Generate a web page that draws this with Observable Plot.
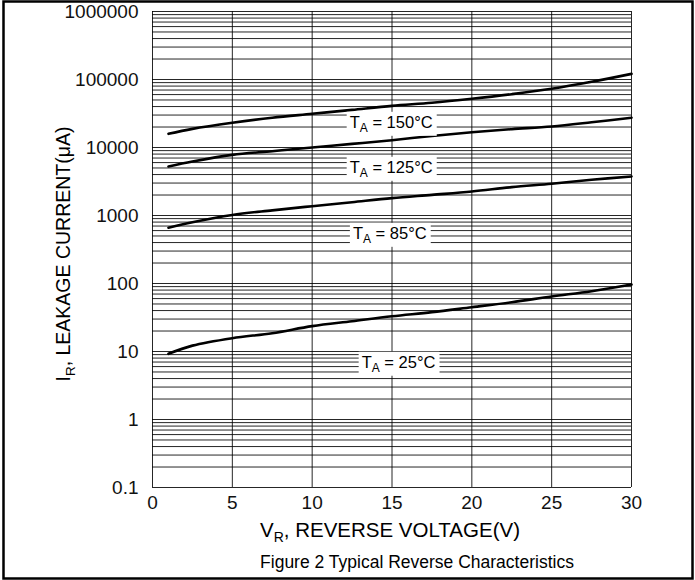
<!DOCTYPE html>
<html><head><meta charset="utf-8">
<script src="https://cdn.jsdelivr.net/npm/d3@7"></script>
<script src="https://cdn.jsdelivr.net/npm/@observablehq/plot@0.6"></script>
<style>
html,body{margin:0;padding:0;background:#fff;}
#chart{position:relative;width:695px;height:580px;}
</style></head><body><div id="chart"></div>
<script>
// ---- data ----
const voltage    = [1, 2.5, 5, 7.5, 10, 12.5, 15, 17.5, 20, 22.5, 25, 27.5, 30];
const current150 = [15900, 18800, 23100, 27400, 31300, 35800, 41000, 45400, 52000, 60800, 73000, 92500, 121000];
const current125 = [5250, 6220, 7800, 8830, 10000, 11300, 12800, 14800, 16800, 18600, 20400, 23500, 27400];
const current85  = [660, 796, 1020, 1190, 1370, 1570, 1800, 2010, 2250, 2610, 2930, 3350, 3750];
const current25  = [9.25, 12.2, 15.7, 18.6, 23.6, 27.9, 33, 37.9, 44.8, 53, 64.4, 77, 96.6];
const temperatures = ["150°C", "125°C", "85°C", "25°C"];
const labelVoltage = [12.35, 12.35, 12.55, 13.1];
const labelCurrent = [23300, 5080, 543, 6.9];
const xTicks = [0, 5, 10, 15, 20, 25, 30];
const yTicks = [0.1, 1, 10, 100, 1000, 10000, 100000, 1000000];
const yTickLabels = ["0.1", "1", "10", "100", "1000", "10000", "100000", "1000000"];
const mantissas = [1, 2, 3, 4, 5, 6, 7, 8, 9];

const series = [current150, current125, current85, current25];
const rows = series.flatMap((s, k) => s.map((v, i) => ({V: voltage[i], I: v, T: temperatures[k]})));
const labelRows = temperatures.map((t, i) => ({V: labelVoltage[i], I: labelCurrent[i], T: t}));
const gridY = yTicks.slice(0, -1).flatMap(d => mantissas.map(m => d * m)).concat([yTicks[yTicks.length - 1]]);

const font = '"Liberation Sans", Arial, Helvetica, sans-serif';

const plot = Plot.plot({
  width: 695, height: 580,
  marginLeft: 152, marginRight: 64, marginTop: 11, marginBottom: 93,
  style: {fontFamily: font, background: "transparent", color: "#000", fontWeight: "normal"},
  x: {domain: [0, 30]},
  y: {type: "log", domain: [0.1, 1e6]},
  marks: [
    Plot.ruleY(gridY, {stroke: "#000", strokeWidth: 1, strokeOpacity: 0.85}),
    Plot.ruleX(xTicks, {stroke: "#000", strokeWidth: 1, strokeOpacity: 0.85}),
    Plot.line(rows, {x: "V", y: "I", z: "T", stroke: "#000", strokeWidth: 2.6, curve: "catmull-rom"}),
    Plot.axisX(xTicks, {tickSize: 0, tickPadding: 8, fontSize: 19, fontWeight: "normal", fill: "#111", label: null, tickFormat: d => String(d)}),
    Plot.axisY(yTicks, {tickSize: 0, tickPadding: 14, fontSize: 19, fontWeight: "normal", fill: "#111", label: null,
      tickFormat: d => yTickLabels[yTicks.indexOf(d)]}),
    Plot.text(labelRows, {x: "V", y: "I", text: "T", textAnchor: "start", fontSize: 16.5, fill: "#000", className: "templabel"})
  ]
});
document.getElementById("chart").appendChild(plot);

const svg = d3.select(plot);
svg.selectAll("g.templabel text").each(function() {
  const node = this;
  const t = d3.select(node);
  const label = node.textContent;
  t.text(null);
  t.append("tspan").text("T");
  t.append("tspan").attr("font-size", 12).attr("dy", 4).text("A");
  t.append("tspan").attr("dy", -4).text(" = " + label);
  const b = node.getBBox();
  d3.select(node.parentNode).insert("rect", () => node)
    .attr("x", b.x - 3).attr("y", b.y - 1)
    .attr("width", b.width + 7).attr("height", b.height + 2)
    .attr("fill", "#fff")
    .attr("transform", node.getAttribute("transform"));
});

// axis titles
const xt = svg.append("text").attr("x", 390).attr("y", 537).attr("text-anchor", "middle")
  .attr("font-size", 20.5).attr("font-family", font).attr("fill", "#000");
xt.append("tspan").text("V");
xt.append("tspan").attr("font-size", 14).attr("dy", 5).text("R");
xt.append("tspan").attr("dy", -5).text(", REVERSE VOLTAGE(V)");

const yt = svg.append("text").attr("transform", "translate(70,254) rotate(-90)").attr("text-anchor", "middle")
  .attr("font-size", 19.5).attr("font-family", font).attr("fill", "#000");
yt.append("tspan").text("I");
yt.append("tspan").attr("font-size", 13.5).attr("dy", 5).text("R");
yt.append("tspan").attr("dy", -5).text(", LEAKAGE CURRENT(μA)");

// caption
svg.append("text").attr("x", 417).attr("y", 567.5).attr("text-anchor", "middle")
  .attr("font-size", 17.5).attr("font-family", font).attr("fill", "#000")
  .text("Figure 2 Typical Reverse Characteristics");

// outer border
svg.append("rect").attr("x", 3.5).attr("y", 1.5).attr("width", 689).attr("height", 577)
  .attr("fill", "none").attr("stroke", "#000").attr("stroke-width", 2.5);
</script></body></html>
